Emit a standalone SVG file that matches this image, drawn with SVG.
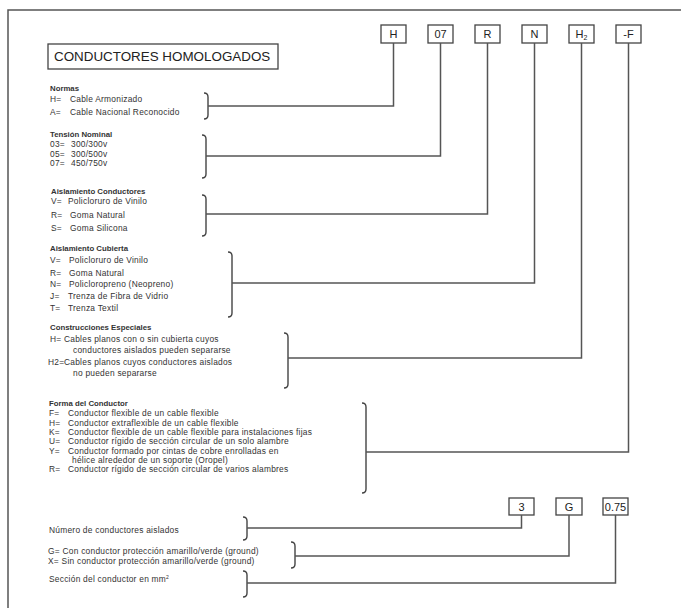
<svg xmlns="http://www.w3.org/2000/svg" width="681" height="608" viewBox="0 0 681 608">
<style>
text{font-family:"Liberation Sans",Arial,sans-serif;fill:#333}
.t{font-size:8.4px;letter-spacing:0.25px}
.h{font-size:7.8px;font-weight:bold}
.title{font-size:13.4px;fill:#222}
.code{font-size:11px;text-anchor:middle;fill:#222}
.box{fill:#fff;stroke:#444;stroke-width:1.3}
.ln{fill:none;stroke:#555;stroke-width:1.5}
.br{fill:none;stroke:#444;stroke-width:1.4}
</style>
<rect width="681" height="608" fill="#fff"/>
<path class="ln" d="M8,608 V10 H681" stroke-width="2"/>
<g id="title"><rect class="box" x="48" y="44" width="230" height="25"/><text class="title" x="54" y="61">CONDUCTORES HOMOLOGADOS</text></g>

<g id="codes">
<g id="c-H"><rect class="box" x="381" y="25" width="25" height="18"/><text class="code" x="393.5" y="38">H</text></g>
<g id="c-07"><rect class="box" x="428" y="25" width="25" height="18"/><text class="code" x="440.5" y="38">07</text></g>
<g id="c-R"><rect class="box" x="475" y="25" width="25" height="18"/><text class="code" x="487.5" y="38">R</text></g>
<g id="c-N"><rect class="box" x="522" y="25" width="25" height="18"/><text class="code" x="534.5" y="38">N</text></g>
<g id="c-H2"><rect class="box" x="569" y="25" width="25" height="18"/><text class="code" x="581.5" y="38">H<tspan font-size="7" dy="2">2</tspan></text></g>
<g id="c-F"><rect class="box" x="616" y="25" width="25" height="18"/><text class="code" x="628.5" y="38">-F</text></g>
<g id="c-3"><rect class="box" x="509" y="498" width="25" height="17"/><text class="code" x="521.5" y="510.5">3</text></g>
<g id="c-G"><rect class="box" x="556" y="498" width="26" height="17"/><text class="code" x="569" y="510.5">G</text></g>
<g id="c-075"><rect class="box" x="603" y="498" width="25" height="17"/><text class="code" x="615.5" y="510.5" font-size="10">0.75</text></g>
</g>

<g id="normas">
<text class="h" x="50" y="91">Normas</text>
<text class="t" x="50" y="102">H=</text><text class="t" x="70" y="102">Cable Armonizado</text>
<text class="t" x="50" y="115">A=</text><text class="t" x="70" y="115">Cable Nacional Reconocido</text>
<path class="br" d="M204,93 Q208,93 208,97 V115 Q208,119 204,119"/>
</g>

<g id="tension">
<text class="h" x="50" y="137">Tensión Nominal</text>
<text class="t" x="50" y="147">03=</text><text class="t" x="71" y="147">300/300v</text>
<text class="t" x="50" y="157">05=</text><text class="t" x="71" y="157">300/500v</text>
<text class="t" x="50" y="166">07=</text><text class="t" x="71" y="166">450/750v</text>
<path class="br" d="M202,135 Q206,135 206,139 V174 Q206,178 202,178"/>
</g>

<g id="aisl-cond">
<text class="h" x="51" y="194">Aislamiento Conductores</text>
<text class="t" x="51" y="204">V=</text><text class="t" x="68" y="204">Policloruro de Vinilo</text>
<text class="t" x="51" y="218">R=</text><text class="t" x="70" y="218">Goma Natural</text>
<text class="t" x="51" y="231">S=</text><text class="t" x="70" y="231">Goma Silicona</text>
<path class="br" d="M202,195 Q206,195 206,199 V232 Q206,236 202,236"/>
</g>

<g id="aisl-cub">
<text class="h" x="50" y="251">Aislamiento Cubierta</text>
<text class="t" x="50" y="263">V=</text><text class="t" x="69" y="263">Policloruro de Vinilo</text>
<text class="t" x="50" y="276">R=</text><text class="t" x="69" y="276">Goma Natural</text>
<text class="t" x="50" y="287">N=</text><text class="t" x="69" y="287">Policloropreno (Neopreno)</text>
<text class="t" x="50" y="299">J=</text><text class="t" x="68" y="299">Trenza de Fibra de Vidrio</text>
<text class="t" x="50" y="311">T=</text><text class="t" x="68" y="311">Trenza Textil</text>
<path class="br" d="M228,252 Q232,252 232,256 V313 Q232,317 228,317"/>
</g>

<g id="construcciones">
<text class="h" x="50" y="330">Construcciones Especiales</text>
<text class="t" x="50" y="342">H=</text><text class="t" x="64" y="342">Cables planos con o sin cubierta cuyos</text>
<text class="t" x="73" y="353">conductores aislados pueden separarse</text>
<text class="t" x="48" y="365" letter-spacing="0">H2=</text><text class="t" x="64" y="365">Cables planos cuyos conductores aislados</text>
<text class="t" x="73" y="376">no pueden separarse</text>
<path class="br" d="M284,333 Q288,333 288,337 V384 Q288,388 284,388"/>
</g>

<g id="forma">
<text class="h" x="49" y="406">Forma del Conductor</text>
<text class="t" x="49" y="416">F=</text><text class="t" x="68" y="416">Conductor flexible de un cable flexible</text>
<text class="t" x="49" y="426">H=</text><text class="t" x="68" y="426">Conductor extraflexible de un cable flexible</text>
<text class="t" x="49" y="435">K=</text><text class="t" x="68" y="435">Conductor flexible de un cable flexible para instalaciones fijas</text>
<text class="t" x="49" y="444">U=</text><text class="t" x="68" y="444">Conductor rígido de sección circular de un solo alambre</text>
<text class="t" x="49" y="454">Y=</text><text class="t" x="68" y="454">Conductor formado por cintas de cobre enrolladas en</text>
<text class="t" x="72" y="463">hélice alrededor de un soporte (Oropel)</text>
<text class="t" x="49" y="472">R=</text><text class="t" x="68" y="472">Conductor rígido de sección circular de varios alambres</text>
<path class="br" d="M362,403 Q366,403 366,407 V489 Q366,493 362,493"/>
</g>

<g id="numero">
<text class="t" x="49" y="533">Número de conductores aislados</text>
<path class="br" d="M243,517 Q247,517 247,521 V536 Q247,540 243,540"/>
</g>
<g id="proteccion">
<text class="t" x="48" y="554">G= Con conductor protección amarillo/verde (ground)</text>
<text class="t" x="48" y="564">X= Sin conductor protección amarillo/verde (ground)</text>
<path class="br" d="M291,542 Q295,542 295,546 V564 Q295,568 291,568"/>
</g>
<g id="seccion">
<text class="t" x="49" y="582">Sección del conductor en mm<tspan font-size="5" dy="-3">2</tspan></text>
<path class="br" d="M243,571 Q247,571 247,575 V593 Q247,597 243,597"/>
</g>

<g id="connectors">
<path class="ln" d="M208,106 H393.5 V43"/>
<path class="ln" d="M206,156 H440.5 V43"/>
<path class="ln" d="M206,214 H487.5 V43"/>
<path class="ln" d="M232,283 H534.5 V43"/>
<path class="ln" d="M288,358 H581.5 V43"/>
<path class="ln" d="M366,452 H628.5 V43"/>
<path class="ln" d="M247,528 H521.5 V515"/>
<path class="ln" d="M295,556 H569 V515"/>
<path class="ln" d="M247,583 H615.5 V515"/>
</g>
</svg>
